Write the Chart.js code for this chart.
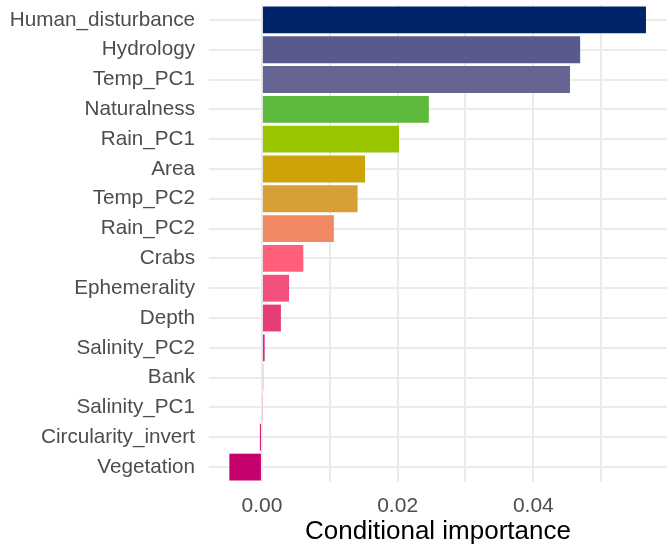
<!DOCTYPE html>
<html>
<head>
<meta charset="utf-8">
<script src="https://cdn.jsdelivr.net/npm/chart.js@4"></script>
<style>
  html, body { margin: 0; padding: 0; background: #ffffff; }
</style>
</head>
<body>
<canvas id="importance-chart" width="667" height="547"></canvas>
<script>
const variables = [
    'Human_disturbance',
    'Hydrology',
    'Temp_PC1',
    'Naturalness',
    'Rain_PC1',
    'Area',
    'Temp_PC2',
    'Rain_PC2',
    'Crabs',
    'Ephemerality',
    'Depth',
    'Salinity_PC2',
    'Bank',
    'Salinity_PC1',
    'Circularity_invert',
    'Vegetation',
];
const importance = [
    0.0566,
    0.0469,
    0.0454,
    0.0246,
    0.0202,
    0.0152,
    0.0141,
    0.0106,
    0.0061,
    0.0040,
    0.0028,
    0.0004,
    0.0002,
    0.00005,
    -0.0003,
    -0.0048,
];
const barColors = [
    '#00246a',
    '#58598c',
    '#656493',
    '#5db93b',
    '#98c400',
    '#cca408',
    '#d7a036',
    '#f08863',
    '#ff5f7b',
    '#f05079',
    '#e63d76',
    '#df1e7d',
    '#ec6b9e',
    '#f6b6cc',
    '#d0126e',
    '#c6006c',
];
const xGridValues = [0, 0.01, 0.02, 0.03, 0.04, 0.05];
const xLabelled = [0, 0.02, 0.04];

const ctx = document.getElementById('importance-chart').getContext('2d');
const importanceChart = new Chart(ctx, {
    type: 'bar',
    data: {
        labels: variables,
        datasets: [
            {
                data: importance,
                backgroundColor: barColors,
                borderWidth: 0,
                categoryPercentage: 0.9,
                barPercentage: 1.0
            },
        ]
    },
    options: {
        indexAxis: 'y',
        responsive: false,
        animation: false,
        layout: {
            padding: { top: 5, left: 0, right: 0, bottom: 0 }
        },
        plugins: {
            legend: { display: false },
            tooltip: { enabled: false }
        },
        scales: {
            x: {
                type: 'linear',
                min: -0.0078,
                max: 0.0597,
                border: { display: false },
                grid: {
                    color: '#ebebeb',
                    lineWidth: 2,
                    drawTicks: false
                },
                afterBuildTicks: (scale) => {
                    scale.ticks = xGridValues.map(v => ({ value: v }));
                },
                afterFit: (scale) => {
                    scale.height = 65;
                    scale.paddingLeft = 0;
                    scale.paddingRight = 0;
                },
                ticks: {
                    padding: 12,
                    color: '#4d4d4d',
                    font: { family: 'Liberation Sans', size: 21 },
                    maxRotation: 0,
                    autoSkip: false,
                    callback: (value) => xLabelled.some(v => Math.abs(v - value) < 1e-9) ? value.toFixed(2) : ''
                },
                title: {
                    display: true,
                    text: 'Conditional importance',
                    color: '#000000',
                    font: { family: 'Liberation Sans', size: 26 },
                    padding: { top: -3, bottom: 0 }
                }
            },
            y: {
                border: { display: false },
                grid: {
                    offset: false,
                    color: '#ebebeb',
                    lineWidth: 2,
                    drawTicks: false
                },
                afterFit: (scale) => {
                    scale.width = 209;
                    scale.paddingTop = 0;
                    scale.paddingBottom = 0;
                },
                ticks: {
                    padding: 14,
                    color: '#4d4d4d',
                    font: { family: 'Liberation Sans', size: 20.7 },
                    autoSkip: false
                }
            }
        }
    }
});
</script>
</body>
</html>
